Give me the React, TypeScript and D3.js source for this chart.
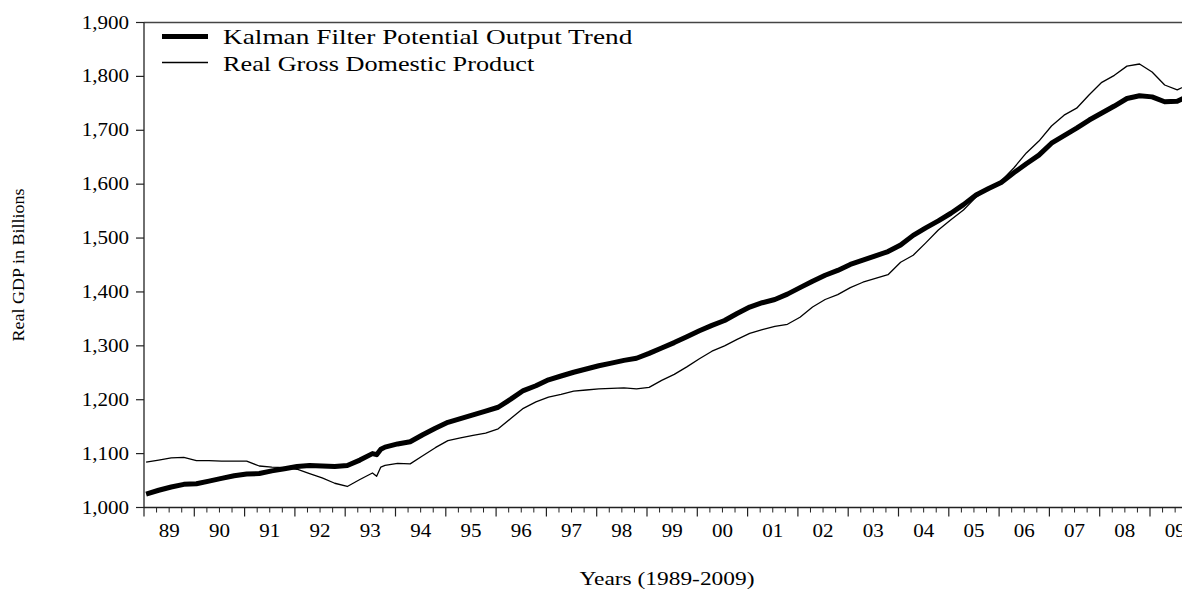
import React from "react";
import * as d3 from "d3";

// Observation months (quarterly, plus two monthly points in 1993)
const obsMonths = [
  "1989-01","1989-04","1989-07","1989-10",
  "1990-01","1990-04","1990-07","1990-10",
  "1991-01","1991-04","1991-07","1991-10",
  "1992-01","1992-04","1992-07","1992-10",
  "1993-01","1993-04","1993-07","1993-08","1993-09","1993-10",
  "1994-01","1994-04","1994-07","1994-10",
  "1995-01","1995-04","1995-07","1995-10",
  "1996-01","1996-04","1996-07","1996-10",
  "1997-01","1997-04","1997-07","1997-10",
  "1998-01","1998-04","1998-07","1998-10",
  "1999-01","1999-04","1999-07","1999-10",
  "2000-01","2000-04","2000-07","2000-10",
  "2001-01","2001-04","2001-07","2001-10",
  "2002-01","2002-04","2002-07","2002-10",
  "2003-01","2003-04","2003-07","2003-10",
  "2004-01","2004-04","2004-07","2004-10",
  "2005-01","2005-04","2005-07","2005-10",
  "2006-01","2006-04","2006-07","2006-10",
  "2007-01","2007-04","2007-07","2007-10",
  "2008-01","2008-04","2008-07","2008-10",
  "2009-01","2009-04","2009-07","2009-10",
];

const trendValues = [
  1025, 1032, 1038, 1043,
  1044, 1049, 1054, 1059,
  1062, 1063, 1068, 1072,
  1076, 1078, 1077, 1076,
  1078, 1088, 1100, 1098, 1108, 1112,
  1118, 1122, 1135, 1147,
  1158, 1165, 1172, 1179,
  1186, 1201, 1217, 1226,
  1237, 1244, 1251, 1257,
  1263, 1268, 1273, 1277,
  1286, 1296, 1306, 1317,
  1328, 1338, 1347, 1360,
  1372, 1380, 1386, 1396,
  1408, 1420, 1431, 1440,
  1451, 1459, 1467, 1475,
  1487, 1505, 1519, 1532,
  1546, 1562, 1580, 1592,
  1603, 1621, 1638, 1654,
  1676, 1690, 1704, 1719,
  1732, 1745, 1759, 1764,
  1762, 1753, 1754, 1765,
];

const gdpValues = [
  1084, 1088, 1092, 1093,
  1087, 1087, 1086, 1086,
  1086, 1077, 1075, 1074,
  1071, 1063, 1055, 1045,
  1039, 1052, 1064, 1058, 1075, 1078,
  1082, 1081, 1096, 1111,
  1124, 1129, 1134, 1138,
  1146, 1165, 1184, 1196,
  1205, 1210, 1216, 1218,
  1220, 1221, 1222, 1220,
  1223, 1236, 1247, 1261,
  1276, 1290, 1300, 1312,
  1323, 1330, 1336, 1340,
  1353, 1372, 1386, 1395,
  1408, 1418, 1425, 1432,
  1455, 1468, 1491, 1515,
  1534, 1552, 1576, 1592,
  1606, 1630, 1658, 1680,
  1708, 1728, 1741, 1766,
  1789, 1802, 1819, 1823,
  1808, 1784, 1775, 1786,
];

const yTicks = [1000, 1100, 1200, 1300, 1400, 1500, 1600, 1700, 1800, 1900];
const yearLabels = ["89","90","91","92","93","94","95","96","97","98","99","00","01","02","03","04","05","06","07","08","09"];
const legendLabels = ["Kalman Filter Potential Output Trend", "Real Gross Domestic Product"];
const yTitle = "Real GDP in Billions";
const xTitle = "Years  (1989-2009)";

const W = 1182;
const H = 592;
const PLOT_LEFT = 144;
const YEAR_W = 50.3;
const PLOT_RIGHT = PLOT_LEFT + YEAR_W * yearLabels.length;
const PLOT_TOP = 22.5;
const PLOT_BOTTOM = 507.5;
const FONT = "'Liberation Serif', 'Times New Roman', serif";
const SX = 1.17;

const monthIndex = (s: string) => {
  const [yy, mm] = s.split("-").map(Number);
  return (yy - 1989) * 12 + (mm - 1);
};

export default function App() {
  const x = d3.scaleLinear().domain([0, yearLabels.length * 12]).range([PLOT_LEFT, PLOT_RIGHT]);
  const y = d3.scaleLinear().domain([1000, 1900]).range([PLOT_BOTTOM, PLOT_TOP]);
  const idx = obsMonths.map(monthIndex);

  const line = d3
    .line<number>()
    .x((_, i) => x(idx[i] + 0.5))
    .y((d) => y(d));

  const yearTicks = d3.range(0, yearLabels.length + 1);
  const quarterTicks = d3.range(0, yearLabels.length * 4 + 1).filter((q) => q % 4 !== 0);

  const txt = (
    key: string | number,
    tx: number,
    ty: number,
    s: string,
    size: number,
    anchor: "start" | "middle" | "end" = "start",
    sx = SX
  ) => (
    <text
      key={key}
      transform={`translate(${tx},${ty}) scale(${sx},1)`}
      textAnchor={anchor}
      fontFamily={FONT}
      fontSize={size}
      fill="#000"
    >
      {s}
    </text>
  );

  return (
    <svg
      width={W}
      height={H}
      style={{ position: "absolute", left: 0, top: 0, background: "#fff" }}
    >
      {/* top border */}
      <line x1={PLOT_LEFT} x2={PLOT_RIGHT} y1={PLOT_TOP} y2={PLOT_TOP} stroke="#444" strokeWidth={1.5} />
      {/* left axis */}
      <line x1={PLOT_LEFT} x2={PLOT_LEFT} y1={PLOT_TOP} y2={PLOT_BOTTOM} stroke="#222" strokeWidth={1.3} />
      {/* bottom axis */}
      <line x1={PLOT_LEFT} x2={PLOT_RIGHT} y1={PLOT_BOTTOM} y2={PLOT_BOTTOM} stroke="#222" strokeWidth={1.3} />

      {/* y ticks */}
      {yTicks.map((t) => (
        <g key={t}>
          <line x1={PLOT_LEFT - 8} x2={PLOT_LEFT} y1={y(t)} y2={y(t)} stroke="#222" strokeWidth={1.2} />
          {txt(`yl${t}`, 129, y(t) + 6, d3.format(",")(t), 18, "end")}
        </g>
      ))}

      {/* x ticks */}
      {yearTicks.map((k) => (
        <line key={`M${k}`} x1={x(k * 12)} x2={x(k * 12)} y1={PLOT_BOTTOM} y2={PLOT_BOTTOM + 9} stroke="#222" strokeWidth={1.2} />
      ))}
      {quarterTicks.map((q) => (
        <line key={`m${q}`} x1={x(q * 3)} x2={x(q * 3)} y1={PLOT_BOTTOM} y2={PLOT_BOTTOM + 5} stroke="#222" strokeWidth={1} />
      ))}
      {yearLabels.map((lab, k) => txt(`xl${k}`, x(k * 12 + 6), 537, lab, 18, "middle"))}

      {/* series */}
      <path d={line(gdpValues) || ""} fill="none" stroke="#000" strokeWidth={1.3} strokeLinejoin="round" />
      <path d={line(trendValues) || ""} fill="none" stroke="#000" strokeWidth={5} strokeLinejoin="round" />

      {/* legend */}
      <line x1={162} x2={208} y1={36.5} y2={36.5} stroke="#000" strokeWidth={5} />
      <line x1={162} x2={208} y1={62.5} y2={62.5} stroke="#000" strokeWidth={1.3} />
      {txt("lg0", 223, 44, legendLabels[0], 21, "start", 1.3)}
      {txt("lg1", 223, 70.5, legendLabels[1], 21, "start", 1.25)}

      {/* axis titles */}
      <text
        transform={`translate(24,265) rotate(-90) scale(1.06,1)`}
        textAnchor="middle"
        fontFamily={FONT}
        fontSize={17}
      >
        {yTitle}
      </text>
      {txt("xt", 667, 585, xTitle, 18, "middle", 1.3)}
    </svg>
  );
}
